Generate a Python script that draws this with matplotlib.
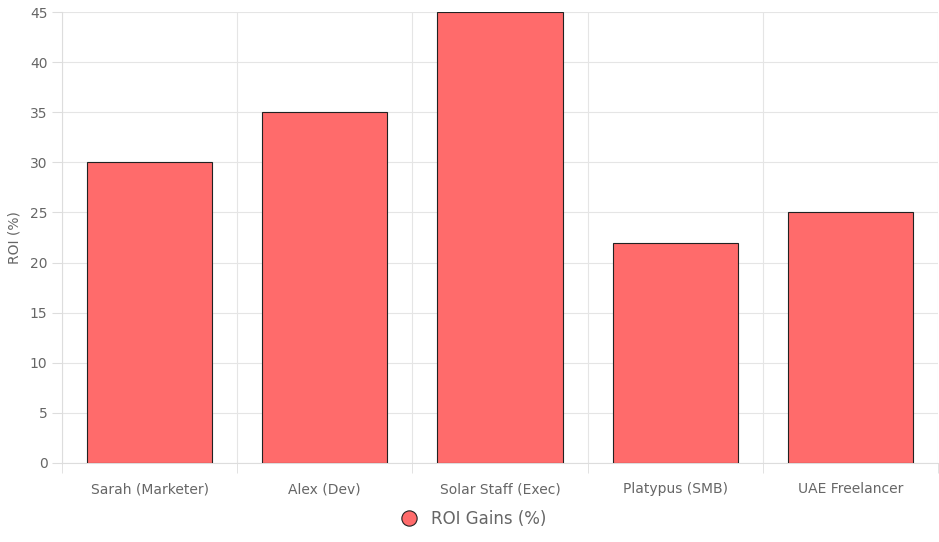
import numpy as np
import matplotlib.pyplot as plt
from matplotlib.lines import Line2D

categories = ["Sarah (Marketer)", "Alex (Dev)", "Solar Staff (Exec)", "Platypus (SMB)", "UAE Freelancer"]
roi = [30, 35, 45, 22, 25]

fig = plt.figure(figsize=(9.39, 5.42), dpi=100)
ax = fig.add_axes([62 / 939, 1 - 463 / 542, 876 / 939, 451 / 542])

x = np.arange(len(categories))
ax.bar(x, roi, width=0.715, color="#ff6b6b", edgecolor="#222222", linewidth=0.8, zorder=3)

ax.set_xlim(-0.5, len(categories) - 0.5)
ax.set_ylim(0, 45)
ax.set_yticks(range(0, 46, 5))
ax.set_xticks(x)
ax.set_xticklabels(categories, fontsize=10, color="#666666")
ax.tick_params(axis="x", length=0, pad=14)
ax.tick_params(axis="y", labelsize=10, colors="#666666", length=7, color="#dddddd")
ax.set_xticks(np.arange(-0.5, len(categories)), minor=True)
ax.tick_params(axis="x", which="minor", length=7, color="#dddddd")
ax.grid(True, axis="y", color="#e5e5e5", linewidth=0.8, zorder=0)
ax.grid(True, axis="x", which="minor", color="#e5e5e5", linewidth=0.8, zorder=0)
for s in ax.spines.values():
    s.set_visible(False)
ax.spines["left"].set_visible(True)
ax.spines["bottom"].set_visible(True)
ax.spines["left"].set_color("#dddddd")
ax.spines["bottom"].set_color("#dddddd")
ax.set_ylabel("ROI (%)", fontsize=10, color="#666666", labelpad=6)

handle = Line2D([], [], marker="o", linestyle="", markersize=11,
                markerfacecolor="#ff6b6b", markeredgecolor="#222222", markeredgewidth=0.8)
fig.legend([handle], ["ROI Gains (%)"], loc="center", bbox_to_anchor=(0.5, 1 - 519 / 542),
           frameon=False, fontsize=12, labelcolor="#666666", handletextpad=0.3)

fig.savefig("out.png", dpi=100)
